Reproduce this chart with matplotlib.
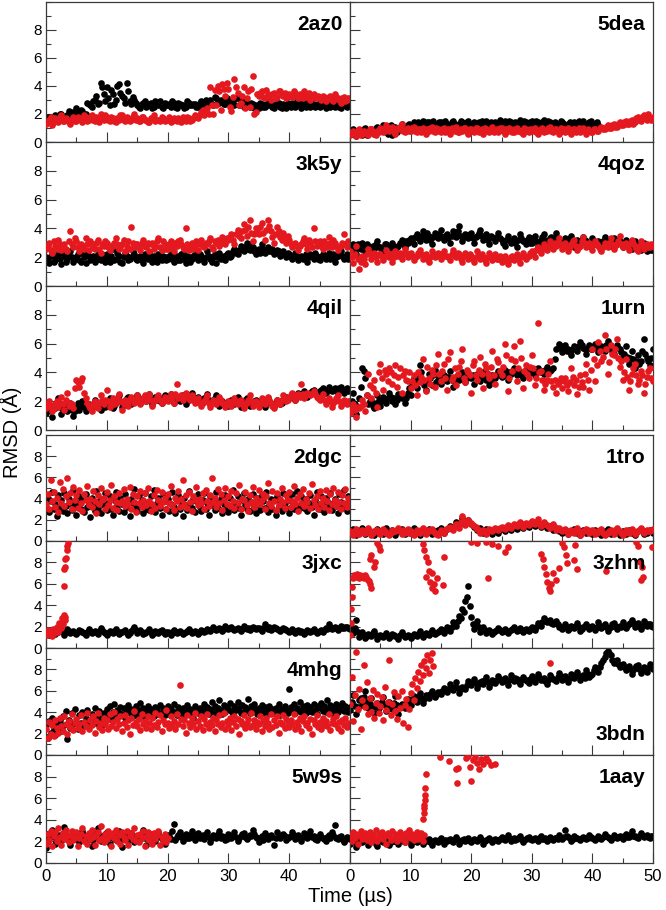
import matplotlib
matplotlib.use('Agg')
import matplotlib.pyplot as plt
import numpy as np
from matplotlib.ticker import MultipleLocator

plt.rcParams['font.family'] = ['Liberation Sans', 'DejaVu Sans']

RED = '#e3191f'

# time grids in microseconds
t_half = np.arange(101) * 0.5
t_quarter = np.arange(201) * 0.25

# ---------------- RMSD values (A) ----------------
# lists named *2 are the in-between frames (t = 0.25, 0.75, ...)
# 2az0
az0_k = [1.5,1.8,1.4,1.9,1.6,2.0,1.7,1.9,1.5,2.1,
         2.4,1.9,2.2,2.0,2.7,2.5,3.0,2.7,4.2,3.4,
         3.9,2.6,3.4,3.0,4.1,3.3,2.8,3.6,2.7,3.0,
         2.6,2.4,2.8,2.5,2.7,2.4,2.9,2.6,2.5,2.8,
         2.6,2.5,2.8,2.4,2.7,2.6,2.5,2.8,2.6,2.7,
         2.5,2.9,2.6,2.7,3.0,2.6,3.1,2.8,2.9,2.7,
         3.0,2.8,2.6,3.1,2.7,2.5,2.8,2.5,2.7,2.5,
         2.4,2.7,2.5,2.6,2.8,2.4,2.6,2.5,2.7,2.4,
         2.6,2.8,2.5,2.7,2.4,2.6,2.9,2.5,2.7,2.6,
         2.5,2.7,2.4,2.6,2.8,2.5,2.7,2.4,2.6,2.5,
         2.6]
az0_k2 = [1.7,1.5,1.8,1.6,2.0,1.8,1.6,2.2,1.8,1.9,
          2.1,2.3,1.9,2.8,2.6,2.9,3.3,2.8,3.9,2.9,
          3.1,3.7,2.7,4.0,3.5,3.1,4.2,2.9,3.2,2.8,
          2.5,2.7,2.9,2.6,2.8,2.5,2.7,2.9,2.4,2.6,
          2.7,2.9,2.5,2.8,2.6,2.4,2.9,2.6,2.7,2.5,
          2.8,2.6,3.0,2.8,2.7,3.2,2.9,3.0,2.7,3.1,
          2.7,2.9,3.1,2.6,2.9,2.7,2.6,2.8,2.4,2.6,
          2.8,2.5,2.7,2.9,2.5,2.7,2.8,2.4,2.6,2.8,
          2.5,2.7,2.9,2.6,2.8,2.5,2.7,2.8,2.5,2.7,
          2.9,2.6,2.8,2.5,2.7,2.9,2.5,2.7,2.9,2.6]
az0_r = [1.3,1.6,1.2,1.7,1.4,1.9,1.5,1.6,1.3,1.8,
         1.5,1.7,1.4,1.8,1.6,1.9,1.5,1.7,2.0,1.6,
         1.8,1.5,1.7,1.4,1.6,1.9,1.5,1.7,1.6,2.0,
         1.7,1.5,1.8,1.6,1.4,1.7,1.5,1.6,1.8,1.5,
         1.6,1.4,1.7,1.5,1.6,1.8,1.5,1.7,1.6,1.9,
         1.7,2.1,1.9,2.4,3.9,2.0,2.6,3.6,4.1,3.3,
         3.8,2.2,4.5,3.5,2.8,3.9,3.1,2.5,4.7,2.1,
         3.3,3.6,3.1,3.4,3.0,3.5,3.2,3.6,3.3,3.1,
         3.4,3.2,3.5,3.1,3.3,3.6,3.2,3.0,3.4,3.2,
         3.1,3.3,2.9,3.2,3.0,3.4,3.1,2.8,3.2,3.0,
         3.1]
az0_r2 = [1.5,1.8,1.4,1.6,1.8,1.5,1.7,1.4,1.6,1.5,
          1.8,1.6,1.9,1.5,1.7,1.6,1.8,1.4,1.7,1.9,
          1.6,1.8,1.5,1.7,1.9,1.6,1.8,1.5,1.8,1.6,
          1.5,1.8,1.6,1.4,1.7,1.9,1.6,1.5,1.7,1.6,
          1.8,1.5,1.6,1.7,1.4,1.6,1.8,1.5,1.7,1.8,
          1.9,2.3,2.2,2.0,2.6,3.7,4.0,2.3,3.8,4.2,
          2.5,3.2,3.9,2.6,3.3,2.4,3.6,3.8,2.0,3.4,
          3.5,3.2,3.7,3.3,3.4,3.1,3.6,3.4,3.5,3.2,
          3.3,3.6,3.3,3.4,3.1,3.4,3.5,3.3,3.1,3.3,
          3.0,3.2,3.1,3.3,2.9,3.2,3.0,3.1,2.9,3.1]

# 5dea
dea_k = [0.6,0.9,0.4,0.8,0.5,1.0,0.7,0.9,0.6,1.1,
         0.8,1.2,0.7,1.0,0.5,1.1,0.9,1.3,0.8,1.2,
         1.0,1.4,1.1,1.3,1.5,1.2,1.4,1.1,1.3,1.2,
         1.4,1.1,1.3,1.2,1.5,1.1,1.3,1.4,1.2,1.5,
         1.2,1.4,1.1,1.3,1.2,1.5,1.3,1.1,1.4,1.2,
         1.3,1.5,1.2,1.4,1.1,1.3,1.6,1.2,1.4,1.3,
         1.5,1.2,1.4,1.3,1.6,1.2,1.4,1.1,1.3,1.2,
         1.4,1.1,1.3,1.2,1.4,1.1,1.3,1.5,1.2,1.4,
         1.1,1.3,1.2]
dea_k2 = [0.7,0.5,0.8,0.6,0.9,0.5,0.8,0.7,1.0,0.8,
          1.0,0.9,0.6,1.2,0.9,0.7,1.1,1.0,1.1,1.3,
          1.2,1.1,1.4,1.2,1.3,1.4,1.2,1.5,1.1,1.4,
          1.2,1.5,1.2,1.4,1.3,1.2,1.5,1.3,1.4,1.2,
          1.3,1.2,1.4,1.5,1.3,1.2,1.4,1.3,1.2,1.6,
          1.4,1.2,1.5,1.3,1.4,1.2,1.3,1.5,1.2,1.4,
          1.3,1.5,1.2,1.4,1.3,1.5,1.2,1.4,1.3,1.5,
          1.3,1.2,1.4,1.3,1.2,1.5,1.4,1.2,1.3,1.5,
          1.2,1.4]
dea_r = [0.5,0.8,0.4,0.9,0.6,0.7,0.5,0.9,0.6,0.8,
         1.0,0.7,1.2,0.8,1.1,0.6,0.9,1.3,0.7,1.0,
         0.8,1.1,0.7,0.9,1.0,0.6,0.8,1.1,0.7,0.9,
         0.7,1.0,0.8,0.6,0.9,1.1,0.7,0.8,1.0,0.6,
         0.9,0.7,1.0,0.8,0.6,0.9,0.7,1.1,0.8,0.7,
         1.0,0.6,0.8,0.9,0.7,1.0,0.8,0.6,0.9,0.7,
         0.8,1.0,0.6,0.9,0.7,0.8,1.1,0.7,0.9,0.6,
         0.8,0.7,1.0,0.6,0.9,0.8,0.7,1.0,0.6,0.8,
         0.7,0.9,0.8,1.1,0.9,1.2,1.0,1.3,1.1,1.4,
         1.2,1.5,1.3,1.6,1.4,1.8,1.5,1.9,1.6,1.7,
         1.8]
dea_r2 = [0.7,0.6,0.8,0.5,0.8,0.6,0.9,0.7,0.5,0.7,
          0.9,0.8,1.0,0.9,0.7,1.0,1.1,0.8,0.9,0.8,
          1.0,0.8,0.9,0.7,0.8,0.9,1.0,0.8,1.0,0.8,
          0.9,0.7,0.9,1.0,0.8,0.7,0.9,1.0,0.7,0.9,
          0.8,1.0,0.7,0.9,1.0,0.8,0.9,0.7,0.9,1.0,
          0.8,0.9,1.0,0.7,0.9,0.8,0.7,1.0,0.8,0.9,
          0.9,0.7,0.8,1.0,0.8,1.0,0.8,0.9,0.8,1.0,
          0.9,0.8,0.7,0.9,0.7,1.0,0.9,0.8,0.9,0.7,
          0.9,0.8,1.0,0.9,1.1,1.0,1.2,1.1,1.3,1.2,
          1.4,1.3,1.5,1.3,1.7,1.6,1.8,1.7,2.0,1.6]

# 3k5y
k5y_k = [2.0,1.6,2.3,1.8,2.2,1.5,2.1,1.9,2.4,1.7,
         2.0,1.8,2.3,1.6,2.1,1.9,1.7,2.2,1.8,2.0,
         2.2,1.7,2.6,1.9,2.1,1.6,2.3,1.8,2.0,2.2,
         1.8,2.1,1.6,2.0,2.3,1.7,1.9,2.2,1.8,2.0,
         1.9,2.2,1.7,2.1,1.8,2.3,1.6,2.0,1.9,2.2,
         1.8,2.1,1.7,2.4,1.9,2.0,1.6,2.3,2.0,1.8,
         2.3,2.1,2.6,2.2,2.8,2.4,3.0,2.5,2.7,2.2,
         2.6,2.9,2.3,2.7,2.4,2.2,2.5,2.1,2.4,2.0,
         2.2,1.9,2.3,1.8,2.1,2.0,1.7,2.2,1.9,2.1,
         1.8,2.2,1.9,2.3,2.0,1.7,2.1,2.4,1.9,2.2,
         2.0]
k5y_k2 = [1.8,2.1,1.7,2.0,1.9,2.3,1.7,2.1,2.0,1.9,
          2.2,1.7,2.0,2.2,1.8,2.1,2.0,1.9,2.2,1.7,
          1.9,2.1,1.8,2.3,1.7,2.0,2.1,1.9,2.4,1.9,
          2.0,1.8,2.2,1.9,2.0,2.1,1.7,2.0,2.1,1.8,
          2.1,1.9,2.0,1.8,2.2,1.9,2.1,1.7,2.1,2.0,
          2.2,1.9,2.0,2.1,1.7,2.2,2.0,1.9,2.1,2.2,
          2.0,2.4,2.3,2.5,2.6,2.7,2.6,2.9,2.4,2.5,
          2.3,2.6,2.5,2.4,2.6,2.3,2.4,2.2,2.2,2.3,
          2.0,2.1,2.1,2.0,1.9,2.2,2.0,2.1,2.3,1.9,
          2.0,2.1,2.1,1.9,2.2,2.0,2.2,2.1,2.0,1.9]
k5y_r = [2.6,3.0,2.3,2.8,3.2,2.5,2.9,2.4,3.8,2.7,
         3.1,2.4,2.8,3.3,2.5,2.9,2.6,3.2,2.3,2.8,
         3.0,2.5,2.8,3.3,2.6,2.9,2.4,3.1,4.1,2.7,
         2.9,2.5,3.2,2.7,2.4,3.0,2.8,3.3,2.5,2.9,
         2.6,3.1,2.4,2.8,3.2,2.7,4.0,2.5,3.0,2.8,
         2.5,3.2,2.7,2.9,3.3,2.6,3.0,2.8,3.4,2.9,
         3.2,3.6,2.9,3.9,3.3,4.3,3.5,4.6,3.1,4.0,
         3.6,4.4,3.2,4.6,3.8,3.0,4.1,3.4,3.7,3.0,
         3.2,2.7,3.0,2.5,2.9,3.3,2.6,3.0,4.0,2.8,
         3.1,2.6,2.9,3.4,2.7,3.0,2.5,2.8,3.6,2.7,
         2.9]
k5y_r2 = [2.8,2.5,3.1,2.6,2.9,2.7,2.6,3.1,2.9,3.3,
          2.7,2.9,2.6,2.9,3.1,2.7,3.0,2.6,2.9,3.1,
          2.7,2.8,3.0,2.9,2.7,3.2,2.8,2.6,3.0,2.9,
          2.7,3.0,2.8,3.0,2.9,2.6,3.1,2.7,3.1,2.6,
          2.9,2.7,3.0,3.1,2.9,2.6,2.9,2.8,2.6,3.1,
          2.9,2.8,3.0,3.1,2.7,3.1,3.2,3.0,3.1,3.3,
          3.4,3.2,3.6,3.5,3.8,3.9,4.1,3.7,3.6,3.8,
          4.1,3.7,3.9,4.2,3.4,3.6,3.8,3.2,3.3,3.5,
          2.9,2.9,2.8,2.8,3.1,2.9,3.2,2.7,3.1,3.0,
          2.8,3.1,2.7,3.0,3.2,2.8,2.7,3.0,2.9,3.1]

# 4qoz
qoz_k = [2.5,2.9,2.2,2.7,3.0,2.4,2.8,2.3,2.6,3.1,
         2.7,2.4,2.9,2.6,3.0,2.5,2.8,3.2,2.7,3.0,
         3.3,2.9,3.6,3.1,3.8,3.2,3.5,2.9,3.7,3.3,
         3.9,3.2,3.6,3.0,3.8,3.4,4.2,3.1,3.6,3.3,
         3.7,3.0,3.5,3.9,3.2,3.6,2.9,3.4,3.1,3.7,
         3.2,2.8,3.5,3.0,3.3,2.7,3.6,3.1,2.9,3.4,
         3.0,3.5,2.8,3.2,3.6,2.9,3.3,3.0,3.7,3.1,
         2.8,3.3,3.0,3.5,2.7,3.2,2.9,3.4,3.1,2.8,
         3.3,2.9,3.1,2.7,3.4,3.0,2.8,3.3,2.9,3.1,
         2.7,3.2,2.9,2.6,3.1,2.8,2.5,3.0,2.4,2.7,
         2.5]
qoz_k2 = [2.7,2.4,2.9,2.6,2.7,2.9,2.5,2.8,2.9,2.7,
          2.5,2.9,2.7,2.8,2.8,2.7,3.0,2.9,3.1,3.2,
          3.1,3.4,3.3,3.5,3.4,3.7,3.2,3.4,3.5,3.6,
          3.4,3.5,3.3,3.5,3.6,3.8,3.5,3.4,3.5,3.6,
          3.3,3.4,3.7,3.5,3.4,3.2,3.5,3.3,3.4,3.3,
          3.0,3.2,3.2,3.1,3.0,3.2,3.3,3.1,3.2,3.0,
          3.3,3.1,3.0,3.4,3.2,3.1,3.4,3.3,3.3,2.9,
          3.1,3.2,3.3,3.1,3.0,3.1,3.2,3.2,2.9,3.0,
          3.1,3.0,2.9,3.1,3.2,2.9,3.1,3.0,3.1,2.9,
          2.9,3.0,2.7,2.8,3.0,2.6,2.8,2.7,2.6,2.5]
qoz_r = [2.4,1.6,2.8,1.2,2.1,1.5,2.6,1.9,2.3,1.7,
         2.2,1.8,2.5,2.0,1.7,2.4,2.1,1.9,2.6,2.0,
         2.3,1.8,2.1,2.5,1.9,2.2,1.7,2.4,2.0,2.3,
         1.9,2.4,2.1,1.8,2.5,2.0,2.2,1.7,2.3,1.9,
         2.1,1.7,2.4,1.9,2.0,1.6,2.3,1.8,2.2,1.9,
         1.7,2.1,1.5,2.0,1.8,2.2,1.6,2.3,1.9,2.1,
         2.4,2.0,2.7,2.3,2.9,2.5,3.1,2.6,2.8,3.3,
         2.6,3.0,2.4,2.9,3.2,2.5,2.8,3.4,2.7,3.0,
         2.5,3.1,2.8,2.4,3.0,2.7,3.3,2.6,2.9,3.5,
         2.7,3.0,2.5,3.2,2.8,2.4,3.1,2.6,2.9,2.7,
         2.8]
qoz_r2 = [2.0,2.2,1.9,1.7,1.9,2.2,2.3,2.1,2.0,2.2,
          2.0,2.1,2.3,2.2,2.0,2.2,2.3,2.2,2.3,2.2,
          2.1,2.0,2.3,2.2,2.1,1.9,2.0,2.2,2.1,2.2,
          2.2,2.1,2.0,2.2,2.1,2.3,1.9,2.1,2.1,2.2,
          1.9,2.0,2.1,2.2,1.8,2.0,2.1,2.0,1.9,2.1,
          1.9,1.8,1.8,2.1,2.0,1.9,2.0,2.1,2.0,2.3,
          2.2,2.5,2.5,2.6,2.7,2.8,2.8,3.0,3.0,2.9,
          2.8,2.7,2.7,3.1,2.8,2.7,3.1,3.0,2.9,2.8,
          2.9,2.9,2.6,2.7,2.9,3.0,2.9,2.8,3.1,2.9,
          2.9,2.8,2.9,3.0,2.6,2.8,2.9,2.8,2.7,2.9]

# 4qil
qil_k = [1.2,1.8,0.9,1.5,2.2,1.1,1.7,1.3,1.9,1.0,
         1.6,1.4,2.0,1.3,1.8,1.5,2.1,1.6,1.4,1.9,
         1.7,2.2,1.5,1.9,2.4,1.6,2.0,2.3,1.8,2.1,
         2.4,1.9,2.2,2.0,2.5,1.8,2.3,2.1,1.9,2.4,
         2.1,2.5,1.9,2.3,2.0,2.4,1.8,2.2,2.6,2.0,
         2.3,1.9,2.2,2.5,1.8,2.1,2.4,1.7,2.0,1.9,
         1.7,2.1,1.8,2.3,1.6,2.0,2.2,1.7,1.9,2.1,
         1.8,2.0,1.6,2.2,1.9,1.7,2.1,1.8,2.0,2.3,
         2.2,2.5,2.1,2.6,2.4,2.7,2.3,2.6,2.8,2.5,
         2.7,2.9,2.6,3.0,2.7,2.9,2.8,3.0,2.6,2.9,
         2.8]
qil_k2 = [1.5,1.3,1.7,1.8,1.6,1.4,1.5,1.6,1.4,1.3,
          1.9,1.7,1.6,1.6,1.7,1.8,1.8,1.7,1.7,1.6,
          2.0,1.8,1.7,2.1,2.0,1.8,2.2,2.0,2.0,2.3,
          2.1,2.0,2.1,2.2,2.1,2.1,2.2,2.0,2.2,2.2,
          2.3,2.2,2.1,2.2,2.2,2.1,2.0,2.4,2.3,2.1,
          2.1,2.0,2.3,2.1,2.0,2.2,2.0,1.9,1.8,1.8,
          1.9,1.9,2.0,2.0,1.8,2.1,1.9,1.8,2.0,2.0,
          1.9,1.8,1.9,2.0,1.8,1.9,2.0,1.9,2.1,2.2,
          2.3,2.3,2.4,2.5,2.5,2.5,2.4,2.7,2.6,2.6,
          2.8,2.7,2.8,2.8,2.8,2.7,2.9,2.8,2.8,2.7]
qil_r = [1.5,2.0,1.3,1.8,1.6,2.3,1.4,2.6,1.9,1.5,
         3.5,3.0,3.6,2.2,1.7,1.3,2.0,1.5,2.4,1.8,
         2.8,1.6,2.2,1.9,2.5,1.4,2.1,1.7,2.3,1.9,
         2.4,1.8,2.2,2.0,2.5,1.7,2.1,2.4,1.9,2.3,
         2.0,2.5,1.9,3.2,2.3,2.1,2.6,2.2,2.4,1.9,
         2.2,1.7,2.0,2.4,1.6,2.1,1.8,2.3,1.9,1.6,
         2.0,1.7,2.2,1.8,2.1,1.5,1.9,2.4,1.7,2.0,
         1.6,2.2,1.8,2.3,1.9,1.5,2.1,1.8,2.4,2.0,
         2.3,2.6,2.1,2.5,3.2,2.2,2.6,2.4,2.7,2.3,
         2.1,2.5,1.8,2.2,1.6,2.0,2.4,1.7,2.1,1.8,
         2.0]
qil_r2 = [1.8,1.6,1.5,2.0,1.9,1.8,2.1,1.7,1.8,2.9,
          3.3,3.4,2.6,1.9,1.5,1.8,1.7,1.9,2.1,2.1,
          2.0,1.9,1.8,2.2,2.0,1.8,1.9,2.1,2.1,2.1,
          2.1,2.0,2.4,2.2,2.1,2.0,2.3,2.1,2.1,2.1,
          2.2,2.2,2.5,2.2,2.4,2.3,2.4,2.1,2.2,2.0,
          1.9,1.9,2.2,1.9,1.9,2.0,2.0,2.1,1.8,1.8,
          1.8,2.0,1.9,2.0,1.8,1.8,2.1,2.0,1.8,1.9,
          1.9,2.0,2.0,2.1,1.7,1.8,2.0,2.1,2.2,2.1,
          2.4,2.3,2.4,2.3,2.5,2.4,2.5,2.5,2.5,2.2,
          2.3,2.1,2.0,2.0,1.9,2.2,2.0,1.9,1.9,2.0]

# 1urn
urn_k = [1.5,2.6,1.1,2.2,4.3,3.6,1.8,2.1,1.5,2.4,
         1.7,2.3,1.9,2.6,2.0,1.8,2.5,2.2,1.9,2.6,
         2.4,3.6,2.9,4.5,3.3,2.8,3.9,3.1,4.2,3.5,
         3.2,3.8,3.4,4.1,3.0,3.7,3.5,4.0,3.3,3.9,
         3.6,3.2,3.9,3.4,4.0,3.5,3.1,3.8,3.6,4.1,
         3.7,4.2,3.5,3.9,4.3,3.8,4.0,3.6,4.2,3.9,
         4.1,3.8,4.3,4.0,3.9,4.4,4.1,4.3,5.6,6.0,
         5.4,5.9,5.6,5.2,5.8,5.5,6.1,5.7,5.3,5.9,
         5.6,6.0,5.4,5.8,5.5,6.2,5.7,5.3,5.9,5.6,
         5.1,5.8,4.6,5.5,4.3,5.2,4.8,6.3,5.0,4.5,
         5.6]
urn_k2 = [2.0,1.8,1.6,3.0,4.1,2.4,2.0,1.7,1.9,2.1,
          2.0,2.1,2.2,2.3,2.2,2.1,2.3,2.4,2.2,2.9,
          3.1,3.3,3.6,4.0,3.1,3.4,3.6,3.8,3.3,3.7,
          3.5,3.6,3.7,3.5,3.4,3.8,3.7,3.6,3.6,3.7,
          3.8,3.7,3.6,3.7,3.8,3.9,3.5,3.7,3.9,3.8,
          3.9,3.8,4.0,4.1,4.1,3.9,3.8,4.0,4.0,4.1,
          4.0,4.1,4.2,4.1,4.2,4.0,4.2,4.9,5.7,5.8,
          5.7,5.5,5.4,5.6,5.7,5.8,5.9,5.6,5.7,5.6,
          5.8,5.7,5.6,5.7,5.9,5.8,5.5,5.6,5.7,5.4,
          5.3,5.1,5.0,4.9,4.8,4.6,5.5,5.3,4.8,5.0]
urn_r = [1.2,1.8,0.9,1.5,2.1,1.3,3.9,2.2,3.5,1.6,
         4.6,2.8,3.9,4.3,3.2,4.5,3.7,2.6,4.1,3.4,
         2.9,3.8,2.4,3.3,4.9,2.7,3.6,4.2,3.0,5.3,
         3.4,4.6,2.8,5.4,3.7,3.1,4.4,5.6,3.3,4.0,
         2.6,4.8,3.5,5.1,2.9,4.3,3.6,5.5,3.2,4.7,
         3.8,6.0,2.7,4.9,5.8,3.4,6.2,2.9,4.5,3.6,
         5.2,3.1,7.4,4.1,2.8,3.5,4.8,3.0,2.6,3.3,
         2.9,3.6,2.7,4.3,3.1,2.5,3.8,3.0,4.6,2.8,
         5.6,3.4,6.1,4.8,6.6,3.9,5.9,5.2,6.3,4.4,
         3.5,4.9,2.8,3.9,4.6,3.2,4.1,2.6,3.7,4.3,
         3.4]
urn_r2 = [1.5,1.4,1.6,1.7,1.8,2.4,3.1,2.9,2.6,4.0,
          3.6,4.2,3.4,4.0,3.8,3.0,4.3,3.8,3.5,4.0,
          3.4,3.1,4.0,3.7,3.5,4.4,3.2,3.9,4.5,3.9,
          4.1,3.6,4.9,3.5,4.3,3.9,4.8,3.6,4.2,3.8,
          4.5,3.8,4.2,3.9,4.6,3.9,4.4,3.8,4.9,4.1,
          4.4,5.2,3.6,4.1,4.8,4.3,5.0,4.1,3.9,4.4,
          4.3,3.6,4.0,3.5,3.2,3.9,3.4,3.5,3.2,3.6,
          3.4,3.1,3.3,3.7,3.5,3.0,3.3,3.9,3.5,4.2,
          4.9,4.5,5.5,5.1,5.6,4.7,5.3,5.6,5.0,4.8,
          4.0,3.7,3.4,4.3,3.8,3.5,3.8,3.2,4.1,3.6]

# 2dgc (denser sampling)
dgc_k = [3.2,4.1,2.7,3.8,4.6,3.0,3.5,2.4,4.3,3.1,
         3.9,2.8,4.5,3.3,2.6,4.0,3.6,2.9,4.8,3.4,
         2.5,3.7,4.2,3.0,3.9,2.7,4.4,3.2,3.6,2.3,
         4.1,3.5,2.8,4.7,3.1,3.8,2.6,4.0,3.4,4.5,
         2.9,3.6,4.2,3.0,2.5,3.9,4.6,3.3,2.8,4.1,
         3.5,2.7,4.4,3.2,3.8,2.4,4.0,3.6,4.9,3.1,
         2.8,4.3,3.4,3.9,2.6,4.5,3.0,3.7,2.9,4.2,
         3.3,4.8,2.7,3.6,4.1,3.1,2.5,4.4,3.8,3.0,
         4.0,2.8,3.5,4.6,3.2,2.6,3.9,4.3,3.0,3.7,
         2.4,4.1,3.4,2.9,4.7,3.6,3.1,4.0,2.7,3.8,
         4.4,3.2,2.8,3.9,4.5,3.0,3.6,2.5,4.2,3.4,
         3.8,2.9,4.6,3.1,3.7,4.0,2.6,3.5,4.3,3.0,
         2.7,4.1,3.3,4.8,2.9,3.6,4.2,3.1,2.5,3.9,
         4.5,3.4,3.0,4.0,2.8,3.7,4.4,3.2,2.6,4.1,
         3.5,2.9,4.3,3.8,3.1,4.6,2.7,3.4,4.0,3.0,
         3.9,2.5,4.2,3.3,3.7,2.8,4.5,3.6,3.1,4.1,
         2.6,3.8,4.4,3.0,3.5,4.7,2.9,3.3,4.2,3.7,
         3.1,4.0,2.8,3.6,4.3,3.2,2.5,3.9,4.6,3.4,
         3.0,4.2,3.5,2.7,4.1,3.8,3.2,4.5,2.9,3.6,
         4.0,3.3,2.6,4.4,3.7,3.1,4.8,3.5,2.8,4.2,
         3.9]
dgc_r = [3.5,4.4,3.0,5.8,3.8,4.6,3.2,4.1,2.7,5.6,
         3.6,4.9,3.3,4.2,5.9,3.7,4.5,3.0,5.1,3.9,
         4.3,3.1,4.8,3.6,2.8,4.4,3.9,5.2,3.4,4.0,
         3.2,4.7,3.8,2.6,4.3,3.5,5.0,3.9,4.1,3.0,
         4.6,3.4,3.9,5.3,3.1,4.2,3.7,2.9,4.5,3.6,
         3.8,4.9,3.3,4.0,3.5,5.1,3.0,4.4,3.7,2.7,
         4.2,3.6,4.7,3.2,3.9,4.5,3.4,5.0,3.8,2.8,
         3.5,4.3,3.1,4.8,3.9,3.3,4.6,3.7,4.1,3.0,
         4.4,3.6,5.2,3.4,2.9,4.1,3.8,4.7,3.2,4.0,
         5.8,3.5,4.3,3.1,4.6,3.7,2.8,4.2,3.9,5.1,
         3.4,4.0,3.6,4.5,3.0,4.8,3.8,3.3,4.3,5.9,
         3.7,4.1,3.2,4.9,3.6,4.4,2.9,3.9,5.0,3.5,
         4.2,3.3,4.7,3.8,3.1,4.5,3.6,5.3,3.0,4.0,
         3.9,4.6,3.4,2.8,4.3,3.7,5.1,3.2,4.1,3.6,
         4.8,3.5,3.9,4.4,3.0,4.2,5.5,3.6,3.3,4.7,
         3.8,2.9,4.5,3.4,4.0,5.0,3.7,3.1,4.3,3.9,
         4.6,3.2,3.8,5.2,3.5,4.1,2.8,4.4,3.6,4.9,
         3.3,4.0,3.7,4.5,3.1,5.4,3.9,3.4,4.2,3.0,
         4.7,3.6,4.1,3.2,4.8,3.8,2.9,4.4,3.5,5.0,
         3.9,3.3,4.6,3.7,3.0,4.3,3.6,4.9,3.2,4.1,
         3.7]

# 1tro
tro_k = [0.8,1.1,0.6,0.9,1.2,0.7,1.0,0.8,0.6,1.1,
         0.9,0.7,1.2,0.8,1.0,0.6,0.9,1.1,0.7,1.0,
         0.8,1.2,0.9,0.6,1.0,0.8,1.1,0.7,0.9,1.0,
         1.2,0.8,1.1,1.4,1.3,1.8,1.5,2.2,1.7,2.0,
         1.6,1.3,1.0,1.2,0.8,1.1,0.9,0.7,1.0,0.8,
         1.1,0.9,1.2,1.0,1.3,1.1,1.4,1.2,1.5,1.3,
         1.6,1.4,1.7,1.3,1.5,1.2,1.4,1.0,1.1,0.9,
         0.8,1.0,0.7,0.9,1.1,0.8,0.6,1.0,0.8,0.9,
         0.7,1.0,0.8,0.6,0.9,1.1,0.7,0.8,1.0,0.6,
         0.9,0.7,1.0,0.8,0.6,0.9,1.1,0.7,0.8,1.0,
         0.8]
tro_r = [0.9,0.6,1.1,0.7,1.0,0.8,1.2,0.6,0.9,1.0,
         0.7,1.1,0.8,0.6,1.0,0.9,1.2,0.7,0.8,1.1,
         0.9,0.6,1.0,0.8,1.2,0.7,0.9,1.1,0.8,0.6,
         1.0,0.8,1.1,1.3,1.0,1.6,1.2,2.4,1.5,2.0,
         1.7,1.4,1.1,0.8,1.0,0.7,1.1,0.9,1.2,1.0,
         1.3,1.1,1.5,1.2,1.6,1.4,1.8,1.3,1.7,1.5,
         1.9,1.6,2.1,1.4,1.8,1.5,1.2,1.6,1.0,1.2,
         0.9,1.1,0.7,1.0,0.8,1.2,0.6,0.9,1.1,0.8,
         1.0,0.7,0.9,1.1,0.6,0.8,1.0,0.7,1.2,0.9,
         0.6,1.0,0.8,1.1,0.7,0.9,1.2,0.8,1.0,0.9,
         1.1]
tro_r2 = [0.8,0.9,0.7,0.9,0.8,1.0,0.9,0.8,1.0,0.8,
          0.9,0.9,0.7,0.8,0.9,1.0,0.9,1.0,0.9,0.8,
          0.8,0.8,0.9,1.0,0.9,1.0,1.0,0.9,0.7,0.8,
          0.9,1.0,1.2,1.1,1.4,1.4,1.8,1.9,1.8,1.7,
          1.5,1.3,1.0,0.9,0.9,0.9,1.0,1.1,1.1,1.2,
          1.2,1.3,1.3,1.4,1.5,1.6,1.5,1.6,1.6,1.7,
          1.7,1.8,1.7,1.6,1.6,1.4,1.4,1.3,1.1,1.0,
          1.0,0.9,0.9,0.9,1.0,0.9,0.8,1.0,1.0,0.9,
          0.9,0.8,1.0,0.8,0.7,0.9,0.9,1.0,1.0,0.8,
          0.8,0.9,1.0,0.9,0.8,1.0,1.0,0.9,0.9,1.0]

# 3jxc
jxc_k = [1.4,1.2,1.6,1.3,1.5,1.7,1.2,1.8,1.4,1.6,
         1.3,1.7,1.5,1.2,1.8,1.4,1.6,1.3,1.9,1.5,
         1.2,1.6,1.4,1.8,1.3,1.5,1.7,1.2,1.6,2.0,
         1.4,1.7,1.3,1.5,1.8,1.2,1.6,1.4,1.7,1.3,
         1.5,1.2,1.7,1.4,1.6,1.3,1.5,1.8,1.4,1.6,
         1.3,1.7,1.5,1.8,1.6,2.0,1.7,1.9,1.6,2.1,
         1.8,2.0,1.7,1.9,1.6,2.1,1.8,1.7,2.0,1.8,
         1.9,1.6,2.2,1.8,1.7,2.0,1.8,1.6,1.9,1.7,
         1.5,1.8,1.4,1.7,1.6,1.3,1.7,1.5,1.8,1.4,
         1.6,1.5,1.9,2.2,1.8,2.0,1.7,2.1,1.9,2.0,
         1.8]
jxc_k2 = [1.5,1.4,1.4,1.5,1.6,1.5,1.5,1.6,1.5,1.4,
          1.5,1.6,1.4,1.5,1.6,1.5,1.5,1.6,1.7,1.4,
          1.4,1.5,1.6,1.5,1.5,1.6,1.4,1.4,1.8,1.7,
          1.6,1.5,1.4,1.6,1.5,1.4,1.5,1.6,1.5,1.5,
          1.4,1.5,1.5,1.5,1.5,1.4,1.6,1.6,1.5,1.5,
          1.5,1.6,1.6,1.7,1.8,1.8,1.8,1.8,1.8,1.9,
          1.9,1.8,1.8,1.8,1.8,1.9,1.9,1.9,1.9,1.9,
          1.8,1.9,2.0,2.0,1.8,1.9,1.7,1.8,1.8,1.6,
          1.6,1.6,1.6,1.5,1.5,1.5,1.6,1.6,1.6,1.5,
          1.7,1.7,1.8,2.0,1.9,1.9,1.9,1.9,2.0,1.9]
jxc_r_t = [0.0,0.2,0.4,0.6,0.8,1.0,1.2,1.4,1.6,1.8,2.0,2.2,2.4,2.6,2.8,3.0,3.1,3.2,
           2.9,3.0,3.1,3.2,3.3,3.4,3.5,3.6]
jxc_r = [1.5,1.2,1.7,1.3,1.6,1.1,1.8,1.4,1.6,2.0,1.5,2.3,1.9,2.8,2.2,3.1,2.6,2.9,
         5.8,7.4,7.6,8.3,8.4,9.2,9.5,9.8]

# 3zhm
zhm_k = [2.2,1.4,2.6,1.0,1.5,0.9,1.3,1.1,1.6,0.8,
         1.2,1.0,1.4,0.9,1.3,1.1,0.8,1.5,1.0,1.2,
         0.9,1.3,1.1,1.6,1.0,1.4,1.2,1.7,1.3,1.5,
         1.8,1.4,2.0,1.6,2.4,2.1,3.0,3.6,4.4,5.8,
         2.9,1.8,2.5,1.5,2.0,1.4,1.7,1.3,1.6,1.9,
         1.5,1.8,1.4,1.7,2.0,1.6,1.9,1.5,1.8,1.6,
         2.0,1.7,2.3,2.1,2.8,2.4,2.6,2.2,2.5,2.0,
         1.8,2.2,1.7,2.1,1.9,2.3,1.6,2.0,2.2,1.8,
         2.1,1.7,2.4,1.9,2.2,1.6,2.0,2.3,1.8,2.1,
         2.4,1.9,2.2,2.6,2.0,2.3,1.8,2.5,2.1,2.2,
         2.0]
zhm_k2 = [1.8,1.9,1.5,1.2,1.2,1.1,1.2,1.4,1.2,1.1,
          1.1,1.2,1.1,1.1,1.2,1.0,1.2,1.2,1.1,1.1,
          1.1,1.2,1.3,1.3,1.2,1.3,1.4,1.4,1.4,1.6,
          1.6,1.7,1.8,2.0,2.2,2.5,2.8,3.4,4.8,3.9,
          2.2,2.2,2.0,1.8,1.7,1.6,1.5,1.5,1.7,1.7,
          1.6,1.6,1.6,1.8,1.8,1.7,1.7,1.7,1.7,1.8,
          1.8,2.0,2.2,2.4,2.6,2.5,2.3,2.3,2.2,2.0,
          2.0,2.0,1.9,2.0,2.1,2.0,1.8,2.1,2.0,2.0,
          1.9,2.0,2.1,2.1,2.0,1.9,2.2,2.1,2.0,2.0,
          2.1,2.1,2.3,2.3,2.2,2.1,2.1,2.3,2.2,2.1]
zhm_r_t = [0.0,0.1,0.2,0.3,0.4,0.5,0.7,0.9,1.1,1.3,1.5,1.7,1.9,2.1,2.3,2.5,2.7,2.9,3.1,3.3,3.5,
           3.3,3.5,3.9,4.2,4.8,5.0,4.4,
           12.0,12.2,12.5,12.8,13.0,12.6,13.2,13.5,13.8,14.0,14.3,13.6,
           15.5,15.3,
           20.0,21.0,22.5,23.5,24.5,25.5,26.0,22.8,
           31.5,31.8,32.0,32.3,32.5,32.8,33.0,33.2,33.5,34.0,34.5,35.0,35.3,35.6,35.8,
           37.2,37.5,37.0,42.2,47.2,47.6,47.9,48.2,48.4,48.0,49.8]
zhm_r = [1.2,2.3,3.6,4.8,5.7,6.5,6.8,6.6,6.9,6.7,6.5,6.8,6.6,6.7,6.5,6.8,6.6,6.4,6.3,6.0,5.6,
         8.3,8.7,7.6,8.0,9.5,9.2,9.8,
         9.7,9.2,8.5,8.0,7.2,6.6,6.2,5.6,6.0,5.3,6.5,7.0,
         8.5,5.9,
         9.9,9.8,9.9,9.7,9.5,9.0,9.4,6.5,
         8.8,8.3,7.6,6.9,6.2,5.6,5.3,6.0,7.0,6.4,7.5,9.8,9.4,8.7,7.9,
         9.6,7.4,8.2,7.2,9.9,9.5,8.0,7.6,6.6,6.4,9.4]

# 4mhg (denser sampling)
mhg_k = [2.8,1.6,3.2,2.1,3.5,2.4,1.9,3.0,2.6,3.3,
         2.2,3.6,2.8,4.1,1.5,3.3,2.5,3.9,2.9,4.3,
         3.1,2.4,3.7,3.0,4.0,2.7,3.5,4.2,3.2,2.9,
         3.8,3.3,4.4,3.0,3.6,4.1,3.4,2.8,3.9,3.5,
         4.3,3.7,4.6,3.4,4.0,4.8,3.6,4.2,3.9,4.5,
         3.8,4.4,3.5,4.1,4.7,3.9,4.3,3.6,4.0,4.6,
         3.7,4.2,4.9,3.8,4.4,3.5,4.1,4.6,3.9,4.3,
         4.0,3.6,4.5,4.2,3.8,4.7,3.9,4.4,3.7,4.1,
         4.6,3.8,4.3,3.9,4.8,4.0,3.7,4.5,4.1,3.6,
         4.4,3.9,4.2,4.7,3.8,4.3,4.0,3.5,4.6,4.1,
         3.9,4.4,3.7,4.2,4.8,4.0,4.5,3.8,4.3,5.0,
         4.1,4.6,3.9,4.4,5.1,4.2,3.8,4.7,4.0,4.5,
         4.3,4.9,4.1,3.8,4.6,4.2,5.0,4.4,3.9,4.7,
         4.0,4.5,4.2,5.2,3.9,4.6,4.1,4.8,4.3,3.8,
         4.4,4.1,4.7,3.9,4.5,4.2,3.8,4.6,4.0,4.3,
         3.9,4.4,4.1,4.8,3.7,4.3,4.0,4.6,4.2,3.9,
         6.2,4.5,4.1,4.8,3.9,4.4,4.2,5.0,4.0,4.6,
         4.3,3.9,4.7,4.1,4.5,4.0,4.8,4.2,3.8,4.6,
         4.4,4.9,4.1,4.6,4.0,5.1,4.3,4.7,3.9,4.5,
         4.2,4.8,4.0,4.5,4.3,4.9,4.1,4.6,4.4,4.0,
         4.5]
mhg_r = [2.4,1.6,3.1,2.0,2.8,1.8,3.3,2.5,2.1,3.5,
         2.7,2.2,3.6,2.9,2.0,3.2,2.6,3.8,2.3,3.0,
         3.4,2.5,2.9,3.7,2.2,3.1,2.7,3.9,2.4,3.3,
         2.8,3.6,2.1,3.2,3.9,2.6,3.0,2.3,3.5,2.9,
         3.3,2.4,3.8,2.7,3.1,4.0,2.5,3.4,2.9,3.6,
         2.2,3.0,3.7,2.6,3.3,2.0,3.5,2.8,4.1,3.1,
         2.7,3.4,2.3,3.8,2.9,3.2,2.5,3.6,3.0,2.4,
         3.5,2.8,3.9,2.6,3.1,3.7,2.2,3.3,2.9,4.2,
         3.0,2.5,3.6,2.8,3.2,2.4,3.8,2.9,6.5,3.4,
         2.7,3.3,2.1,3.7,3.0,2.6,3.5,2.9,3.9,2.4,
         3.2,2.7,3.6,2.3,3.4,2.9,3.8,2.5,3.1,2.8,
         3.5,2.2,3.3,2.9,3.7,2.6,3.0,3.9,2.4,3.2,
         2.8,3.5,2.3,3.1,3.6,2.7,3.4,2.0,3.2,2.9,
         3.7,2.5,3.0,3.4,2.6,3.9,2.8,3.3,2.4,3.1,
         2.9,3.6,2.2,3.2,2.7,3.5,3.0,2.4,3.8,2.6,
         3.3,2.8,3.6,2.1,3.1,2.9,3.7,2.5,3.4,3.0,
         2.6,3.3,2.9,3.8,2.4,3.1,2.7,3.5,2.2,3.2,
         3.6,2.8,3.0,2.5,3.4,2.0,3.3,2.9,3.7,2.6,
         3.1,2.4,3.5,2.8,3.2,2.7,3.8,2.3,3.0,3.4,
         2.9,3.6,2.5,3.1,2.2,3.3,2.8,3.5,2.6,3.0,
         2.8]

# 3bdn
bdn_k = [4.2,5.6,3.8,5.1,4.7,6.0,4.4,5.3,3.9,4.9,
         4.6,5.4,4.1,5.0,4.3,5.5,3.8,4.8,4.4,5.2,
         4.7,5.5,5.0,5.8,4.9,5.6,5.3,6.0,5.4,5.9,
         5.7,6.3,5.9,6.6,6.1,6.8,5.8,6.4,6.2,6.9,
         6.5,7.1,6.3,6.8,6.6,7.3,6.4,7.0,6.7,7.4,
         6.8,7.2,6.5,7.5,6.9,7.1,6.6,7.3,7.0,6.7,
         7.4,6.8,7.6,7.0,7.2,6.6,7.5,7.1,6.9,7.7,
         7.0,7.4,6.8,7.6,7.2,7.8,7.0,7.5,7.9,7.3,
         7.6,8.2,7.8,8.6,9.2,9.7,9.3,8.6,8.9,8.2,
         8.5,7.9,8.3,7.6,8.1,8.4,7.7,8.2,7.8,8.5,
         8.0]
bdn_k2 = [5.0,4.6,4.5,5.3,5.4,5.0,4.8,4.6,4.5,4.4,
          5.0,4.7,4.6,4.7,4.9,4.7,4.5,4.7,4.8,4.9,
          5.1,5.2,5.4,5.3,5.2,5.5,5.7,5.7,5.6,5.8,
          6.0,6.1,6.2,6.3,6.4,6.3,6.2,6.3,6.5,6.6,
          6.8,6.7,6.6,6.9,7.0,6.8,6.7,6.9,7.0,7.1,
          7.0,6.9,7.0,7.2,7.2,6.9,7.0,7.1,6.9,7.1,
          7.1,7.2,7.3,7.1,6.9,7.0,7.3,7.0,7.3,7.4,
          7.2,7.1,7.2,7.4,7.5,7.4,7.3,7.2,7.6,7.5,
          7.9,8.0,8.2,8.9,9.5,9.5,8.9,8.8,8.5,8.4,
          8.2,8.1,8.0,7.9,8.3,8.0,8.0,7.9,8.1,8.2]
bdn_r = [4.8,7.3,3.2,5.6,9.6,4.3,6.2,2.4,5.1,8.4,
         4.5,6.8,3.8,5.3,4.0,6.1,3.5,4.9,5.7,3.9,
         4.6,5.4,3.3,6.4,4.2,5.0,8.9,3.7,4.8,5.9,
         4.1,3.4,5.5,4.4,6.0,3.0,4.7,5.2,2.6,4.3,
         5.8,6.6,5.1,7.2,6.3,7.8,6.9,8.4,7.5,8.8,
         8.1,9.3,7.7,8.9,9.5,8.3]
bdn_r_extra_t = [33.0]
bdn_r_extra = [8.6]

# 5w9s
w9s_k = [1.4,2.3,3.1,1.8,2.6,2.0,3.3,2.2,1.7,2.8,
         2.4,1.9,3.0,2.1,2.7,1.6,2.5,3.2,2.0,2.3,
         2.9,1.8,2.4,2.2,3.0,1.5,2.6,2.1,2.8,1.9,
         2.5,2.2,3.1,1.7,2.4,2.7,2.0,2.9,2.3,1.8,
         2.6,2.2,3.6,2.4,2.9,2.0,2.7,2.3,3.0,2.1,
         2.8,2.4,2.2,2.9,1.9,2.6,2.3,3.0,2.5,2.1,
         2.7,2.3,2.9,2.0,2.5,2.8,2.2,2.6,3.1,2.4,
         1.9,2.5,2.8,2.2,2.6,1.7,2.9,2.3,2.7,2.1,
         2.4,2.9,2.2,2.6,2.0,2.8,2.3,3.0,2.5,2.1,
         2.7,2.3,2.0,2.6,2.9,3.5,2.2,2.5,1.9,2.4,
         2.2]
w9s_k2 = [2.0,2.6,2.4,2.2,2.1,2.8,2.5,2.4,2.3,2.2,
          2.1,2.5,2.6,2.4,2.2,2.1,2.8,2.4,2.5,2.7,
          2.3,2.4,2.2,2.6,2.1,2.5,2.4,2.3,2.3,2.5,
          2.4,2.7,2.3,2.4,2.1,2.5,2.6,2.4,2.1,2.6,
          2.5,3.0,2.1,2.6,2.4,2.5,2.3,2.6,2.4,2.6,
          2.3,2.6,2.5,2.4,2.3,2.4,2.7,2.3,2.4,2.2,
          2.5,2.6,2.4,2.3,2.7,2.4,2.4,2.5,2.7,2.3,
          2.3,2.1,2.4,2.5,2.4,2.3,2.4,2.6,2.5,2.3,
          2.5,2.6,2.4,2.3,2.4,2.5,2.7,2.4,2.2,2.4,
          2.4,2.2,2.4,2.3,2.6,2.3,2.4,2.2,2.1,2.3]
w9s_r = [1.8,2.7,2.1,3.0,1.6,2.5,2.9,2.0,3.2,2.4,
         1.7,2.8,2.2,3.1,2.5,1.9,2.6,3.0,2.1,2.4,
         2.9,1.6,2.3,2.7,3.2,2.0,2.5,1.8,2.8,2.2,
         3.1,2.4,1.7,2.6,2.9,2.1,3.4,2.3,1.9,2.7,
         2.2,3.0,2.5,1.6,2.8,2.3,3.1,2.0,2.6,1.8,
         2.9,2.4,2.1,3.0,1.7,2.5,2.8,2.2,3.2,2.0,
         2.6,1.9,2.7,2.3,3.0,1.6,2.4,2.9,2.1,2.5,
         1.8,2.8,2.2,2.6,3.0,1.7,2.4,2.1,2.7,1.9,
         2.3]

# 1aay
aay_k = [1.8,2.3,1.5,2.1,1.9,2.4,1.7,2.2,2.0,1.6,
         2.2,1.9,2.3,1.7,2.1,2.0,1.8,2.4,1.9,2.2,
         1.7,2.1,1.9,2.3,1.8,2.0,2.2,1.7,2.1,1.9,
         2.3,1.8,2.0,2.2,1.9,2.4,1.8,2.1,2.0,2.3,
         1.9,2.2,2.0,2.4,1.8,2.1,2.3,1.9,2.2,2.0,
         2.4,2.1,2.6,2.0,2.3,2.2,2.5,1.9,2.2,2.4,
         2.1,2.3,2.0,2.5,2.2,2.0,2.4,2.1,2.3,2.6,
         2.2,3.1,2.4,2.0,2.5,2.3,2.1,2.4,2.2,2.6,
         2.3,2.1,2.5,2.2,2.7,2.4,2.1,2.6,2.3,2.5,
         2.2,2.7,2.4,3.0,2.5,2.3,2.8,2.4,2.6,2.3,
         2.5]
aay_k2 = [2.1,1.9,2.0,2.2,2.1,2.0,1.9,2.1,1.8,2.0,
          2.0,2.1,2.1,1.9,2.0,2.2,2.1,2.0,2.1,2.0,
          2.0,2.0,2.1,2.1,2.0,2.1,1.9,2.0,2.0,2.1,
          2.0,2.1,2.1,2.0,2.2,2.1,2.0,2.2,2.1,2.0,
          2.1,2.1,2.2,2.1,2.0,2.2,2.1,2.1,2.1,2.2,
          2.2,2.3,2.3,2.2,2.1,2.3,2.2,2.1,2.3,2.2,
          2.2,2.2,2.3,2.2,2.3,2.2,2.2,2.3,2.2,2.3,
          2.4,2.5,2.3,2.2,2.3,2.2,2.3,2.3,2.3,2.4,
          2.2,2.3,2.3,2.4,2.5,2.3,2.3,2.4,2.4,2.4,
          2.5,2.4,2.6,2.5,2.4,2.5,2.6,2.5,2.4,2.5]
aay_r = [2.5,2.0,2.9,2.3,2.7,1.8,2.6,3.0,2.2,2.5,
         2.8,2.1,2.4,2.9,1.9,2.6,2.3,3.1,2.0,2.7,
         2.4,2.9,2.2,2.6,1.8,2.8,2.5,2.1,3.0,2.3,
         2.7,2.0,2.5,2.9,2.2,2.6,1.9,2.8,2.4,3.1,
         2.3,2.7,2.1,2.6,2.9,2.2,2.5,2.8,2.0,2.6]
aay_r_extra_t = [12.1,12.15,12.2,12.25,12.3,12.35,12.4,12.5,14.8,16.3,17.5,17.8,17.6,
                 19.2,19.5,19.8,19.9,20.3,20.7,21.0,21.3,21.6,22.0,22.4,22.8,23.3,23.9]
aay_r_extra = [4.1,4.6,5.1,5.4,5.8,6.3,6.9,8.2,9.85,9.4,8.7,8.8,7.4,
               9.7,9.9,8.9,7.6,9.5,9.8,9.3,8.7,9.6,9.2,9.7,9.4,9.1,9.2]


def on_half(v, v2=()):
    # frames at 0.5 us plus optional in-between frames at +0.25 us
    t = np.concatenate([t_half[:len(v)], t_half[:len(v2)] + 0.25])
    return t, list(v) + list(v2)


def on_quarter(v):
    return t_quarter[:len(v)], v


# (name, row, col, black series, red series)
panels = [
    ('2az0', 0, 0, on_half(az0_k, az0_k2), on_half(az0_r, az0_r2)),
    ('5dea', 0, 1, on_half(dea_k, dea_k2), on_half(dea_r, dea_r2)),
    ('3k5y', 1, 0, on_half(k5y_k, k5y_k2), on_half(k5y_r, k5y_r2)),
    ('4qoz', 1, 1, on_half(qoz_k, qoz_k2), on_half(qoz_r, qoz_r2)),
    ('4qil', 2, 0, on_half(qil_k, qil_k2), on_half(qil_r, qil_r2)),
    ('1urn', 2, 1, on_half(urn_k, urn_k2), on_half(urn_r, urn_r2)),
    ('2dgc', 3, 0, on_quarter(dgc_k), on_quarter(dgc_r)),
    ('1tro', 3, 1, on_half(tro_k), on_half(tro_r, tro_r2)),
    ('3jxc', 4, 0, on_half(jxc_k, jxc_k2), (jxc_r_t, jxc_r)),
    ('3zhm', 4, 1, on_half(zhm_k, zhm_k2), (zhm_r_t, zhm_r)),
    ('4mhg', 5, 0, on_quarter(mhg_k), on_quarter(mhg_r)),
    ('3bdn', 5, 1, on_half(bdn_k, bdn_k2),
     (list(t_quarter[:len(bdn_r)]) + bdn_r_extra_t, bdn_r + bdn_r_extra)),
    ('5w9s', 6, 0, on_half(w9s_k, w9s_k2), on_quarter(w9s_r)),
    ('1aay', 6, 1, on_half(aay_k, aay_k2),
     (list(t_quarter[:len(aay_r)]) + aay_r_extra_t, aay_r + aay_r_extra)),
]

# layout in pixels (the two halves of the original figure have different row heights)
W, H = 666.0, 910.0
col_x = [(46, 350), (350, 653)]
row_y = [(1.5, 142), (142, 286), (286, 430), (435, 541), (541, 648), (648, 755), (755, 863)]
AXC = '#3a3a3a'
MS = 23

fig = plt.figure(figsize=(W / 100, H / 100), dpi=100)

for name, row, col, black, red in panels:
    x0, x1 = col_x[col]
    y0, y1 = row_y[row]
    ax = fig.add_axes([x0 / W, 1 - y1 / H, (x1 - x0) / W, (y1 - y0) / H])
    ax.scatter(black[0], black[1], s=MS, color='black', linewidths=0, zorder=2)
    ax.scatter(red[0], red[1], s=MS, color=RED, linewidths=0, zorder=3)

    ax.set_xlim(0, 50)
    ax.set_ylim(0, 10)
    ax.xaxis.set_minor_locator(MultipleLocator(5))
    ax.yaxis.set_minor_locator(MultipleLocator(1))
    ax.set_yticks([0, 2, 4, 6, 8])
    if col == 0:
        ax.set_xticks([0, 10, 20, 30, 40])
    else:
        ax.set_xticks([0, 10, 20, 30, 40, 50])
    ax.tick_params(which='both', direction='in', color=AXC, width=0.8,
                   top=False, right=False)
    ax.tick_params(which='major', length=7)
    ax.tick_params(which='minor', length=3.5)
    ax.tick_params(axis='y', labelsize=11, pad=3)
    ax.tick_params(axis='x', labelsize=12, pad=4)
    if col == 1:
        ax.tick_params(axis='y', labelleft=False)
    if row != 6:
        ax.tick_params(axis='x', labelbottom=False)
    for sp in ax.spines.values():
        sp.set_color(AXC)
        sp.set_linewidth(0.9)

    # panel name
    h = y1 - y0
    w = x1 - x0
    ty = 15 / h if name == '3bdn' else 1 - 28 / h
    ax.text(1 - 7.5 / w, ty, name, transform=ax.transAxes, ha='right',
            va='baseline', fontsize=15, fontweight='bold', zorder=5)

fig.text(11 / W, 1 - 432 / H, 'RMSD (Å)', rotation=90, ha='center', va='center',
         fontsize=14.5)
fig.text(350 / W, 1 - 897 / H, 'Time (µs)', ha='center', va='center', fontsize=14.5)

fig.savefig('out.png', dpi=100)
